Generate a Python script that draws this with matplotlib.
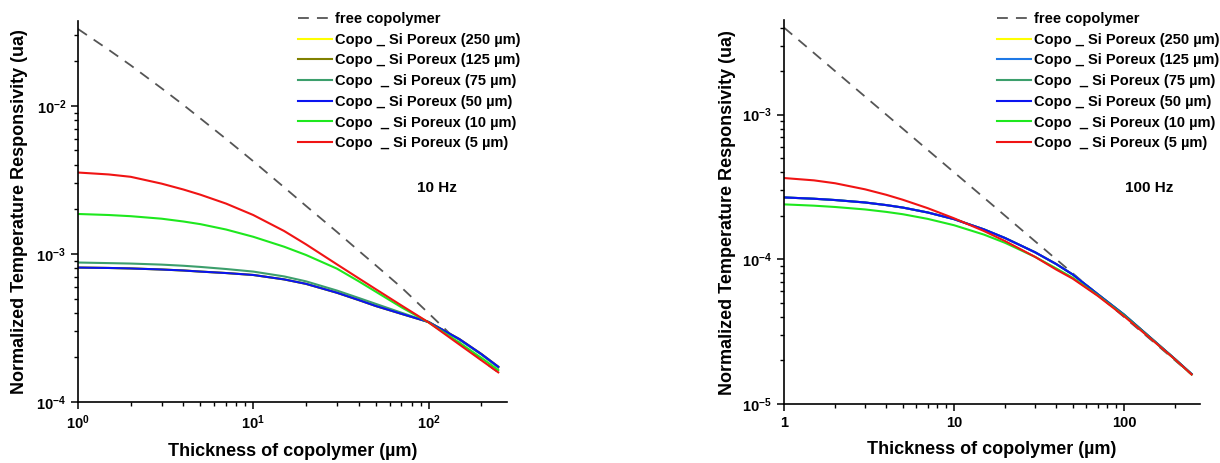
import matplotlib
matplotlib.use('Agg')
import matplotlib.pyplot as plt
from matplotlib.ticker import FuncFormatter

plt.rcParams['font.family'] = ['Liberation Sans', 'DejaVu Sans']
plt.rcParams['font.weight'] = 'bold'
plt.rcParams['mathtext.fontset'] = 'custom'
plt.rcParams['mathtext.rm'] = 'Liberation Sans:bold'
plt.rcParams['mathtext.it'] = 'Liberation Sans:bold'
plt.rcParams['mathtext.bf'] = 'Liberation Sans:bold'

# thickness of copolymer (um)
thick = [1, 1.5, 2, 3, 4, 5, 7, 10, 15, 20, 30, 40, 50, 70, 100, 150, 200, 250]

labels = ['free copolymer',
          'Copo _ Si Poreux (250 µm)',
          'Copo _ Si Poreux (125 µm)',
          'Copo  _ Si Poreux (75 µm)',
          'Copo _ Si Poreux (50 µm)',
          'Copo  _ Si Poreux (10 µm)',
          'Copo  _ Si Poreux (5 µm)']

# ---- 10 Hz ----
free_10 = [3.31e-2, 2.39e-2, 1.88e-2, 1.315e-2, 1.014e-2, 8.22e-3, 5.98e-3, 4.23e-3, 2.82e-3,
           2.11e-3, 1.41e-3, 1.05e-3, 8.38e-4, 5.94e-4, 3.98e-4, 2.51e-4, 1.92e-4, 1.585e-4]
si250_10 = [8.09e-4, 8.04e-4, 7.98e-4, 7.85e-4, 7.73e-4, 7.60e-4, 7.43e-4, 7.21e-4, 6.73e-4,
            6.28e-4, 5.47e-4, 4.88e-4, 4.45e-4, 3.94e-4, 3.47e-4, 2.66e-4, 2.11e-4, 1.73e-4]
si125_10 = [8.09e-4, 8.04e-4, 7.98e-4, 7.85e-4, 7.73e-4, 7.60e-4, 7.43e-4, 7.21e-4, 6.73e-4,
            6.28e-4, 5.47e-4, 4.88e-4, 4.45e-4, 3.94e-4, 3.47e-4, 2.66e-4, 2.11e-4, 1.73e-4]
si75_10 = [8.75e-4, 8.67e-4, 8.61e-4, 8.47e-4, 8.32e-4, 8.17e-4, 7.91e-4, 7.60e-4, 7.05e-4,
           6.53e-4, 5.66e-4, 5.04e-4, 4.60e-4, 4.01e-4, 3.47e-4, 2.63e-4, 2.09e-4, 1.706e-4]
si50_10 = [8.09e-4, 8.04e-4, 7.98e-4, 7.85e-4, 7.73e-4, 7.60e-4, 7.43e-4, 7.21e-4, 6.73e-4,
           6.28e-4, 5.47e-4, 4.88e-4, 4.45e-4, 3.94e-4, 3.47e-4, 2.66e-4, 2.11e-4, 1.73e-4]
si10_10 = [1.862e-3, 1.832e-3, 1.799e-3, 1.730e-3, 1.656e-3, 1.589e-3, 1.462e-3, 1.306e-3, 1.119e-3,
           9.84e-4, 7.96e-4, 6.53e-4, 5.56e-4, 4.365e-4, 3.45e-4, 2.512e-4, 1.986e-4, 1.641e-4]
si5_10 = [3.548e-3, 3.443e-3, 3.319e-3, 2.985e-3, 2.723e-3, 2.512e-3, 2.188e-3, 1.832e-3, 1.429e-3,
          1.161e-3, 8.51e-4, 6.84e-4, 5.78e-4, 4.49e-4, 3.45e-4, 2.443e-4, 1.914e-4, 1.585e-4]

# ---- 100 Hz ----
free_100 = [4.0e-3, 2.67e-3, 2.0e-3, 1.333e-3, 1.0e-3, 8.0e-4, 5.71e-4, 4.0e-4, 2.67e-4,
            2.0e-4, 1.333e-4, 1.0e-4, 8.0e-5, 5.71e-5, 4.0e-5, 2.67e-5, 2.0e-5, 1.6e-5]
si250_100 = [2.679e-4, 2.624e-4, 2.570e-4, 2.472e-4, 2.371e-4, 2.280e-4, 2.109e-4, 1.897e-4, 1.611e-4,
             1.403e-4, 1.119e-4, 9.27e-5, 7.85e-5, 5.75e-5, 4.15e-5, 2.74e-5, 2.04e-5, 1.61e-5]
si125_100 = [2.679e-4, 2.624e-4, 2.570e-4, 2.472e-4, 2.371e-4, 2.280e-4, 2.109e-4, 1.897e-4, 1.611e-4,
             1.403e-4, 1.119e-4, 9.27e-5, 7.85e-5, 5.75e-5, 4.15e-5, 2.74e-5, 2.04e-5, 1.61e-5]
si75_100 = [2.679e-4, 2.624e-4, 2.570e-4, 2.472e-4, 2.371e-4, 2.280e-4, 2.109e-4, 1.897e-4, 1.611e-4,
            1.403e-4, 1.119e-4, 9.27e-5, 7.85e-5, 5.75e-5, 4.15e-5, 2.74e-5, 2.04e-5, 1.61e-5]
si50_100 = [2.679e-4, 2.624e-4, 2.570e-4, 2.472e-4, 2.371e-4, 2.280e-4, 2.109e-4, 1.897e-4, 1.611e-4,
            1.403e-4, 1.119e-4, 9.27e-5, 7.85e-5, 5.75e-5, 4.15e-5, 2.74e-5, 2.04e-5, 1.61e-5]
si10_100 = [2.399e-4, 2.350e-4, 2.301e-4, 2.213e-4, 2.128e-4, 2.051e-4, 1.905e-4, 1.722e-4, 1.483e-4,
            1.300e-4, 1.040e-4, 8.65e-5, 7.45e-5, 5.65e-5, 4.1e-5, 2.72e-5, 2.03e-5, 1.60e-5]
si5_100 = [3.648e-4, 3.516e-4, 3.357e-4, 3.048e-4, 2.793e-4, 2.582e-4, 2.259e-4, 1.923e-4, 1.570e-4,
           1.337e-4, 1.040e-4, 8.49e-5, 7.35e-5, 5.6e-5, 4.05e-5, 2.71e-5, 2.03e-5, 1.60e-5]

colors_10 = ['#ffff00', '#808000', '#3c9f6c', '#0a14f0', '#1ee81e', '#f01414']
colors_100 = ['#ffff00', '#1e78e6', '#3c9f6c', '#0a14f0', '#1ee81e', '#f01414']

fig = plt.figure(figsize=(12.2, 4.63), dpi=100)
ax1 = fig.add_axes([0.0639, 0.1318, 0.3516, 0.823])
ax2 = fig.add_axes([0.6426, 0.1274, 0.341, 0.829])


def draw(ax, free, series, colors, ylim, lab, labx, legx):
    ax.plot(thick, free, color='#555555', lw=1.3, dashes=(6, 4.5), label=labels[0])
    for y, c, l in zip(series, colors, labels[1:]):
        ax.plot(thick, y, color=c, lw=1.5, label=l)
    ax.set_xscale('log')
    ax.set_yscale('log')
    ax.set_xlim(1, 280)
    ax.set_ylim(*ylim)
    ax.spines['top'].set_visible(False)
    ax.spines['right'].set_visible(False)
    ax.spines['left'].set_linewidth(1.2)
    ax.spines['bottom'].set_linewidth(1.2)
    ax.tick_params(which='major', length=5, width=1.1, labelsize=10.5)
    ax.tick_params(which='minor', length=3, width=1.0)
    ax.set_xlabel('Thickness of copolymer (µm)', fontsize=13, fontweight='bold', labelpad=8)
    ax.set_ylabel('Normalized Temperature Responsivity (ua)', fontsize=13, fontweight='bold')
    ax.text(labx, 0.562, lab, transform=ax.transAxes, fontsize=11, fontweight='bold',
            ha='left', va='center')
    ax.legend(loc='upper left', bbox_to_anchor=(legx, 0.974), bbox_transform=fig.transFigure,
              frameon=False, fontsize=10.5, handlelength=2.33, handletextpad=0.22,
              labelspacing=0.46, borderpad=0, borderaxespad=0)


draw(ax1, free_10, [si250_10, si125_10, si75_10, si50_10, si10_10, si5_10],
     colors_10, (1e-4, 0.0375), '10 Hz', 0.79, 0.2443)
draw(ax2, free_100, [si250_100, si125_100, si75_100, si50_100, si10_100, si5_100],
     colors_100, (1e-5, 4.5e-3), '100 Hz', 0.82, 0.8172)
ax2.xaxis.set_major_formatter(FuncFormatter(lambda v, p: '%g' % v))

ax1.yaxis.set_label_coords(-0.117, 0.5)
ax2.yaxis.set_label_coords(-0.115, 0.5)

fig.savefig('out.png', dpi=100)
